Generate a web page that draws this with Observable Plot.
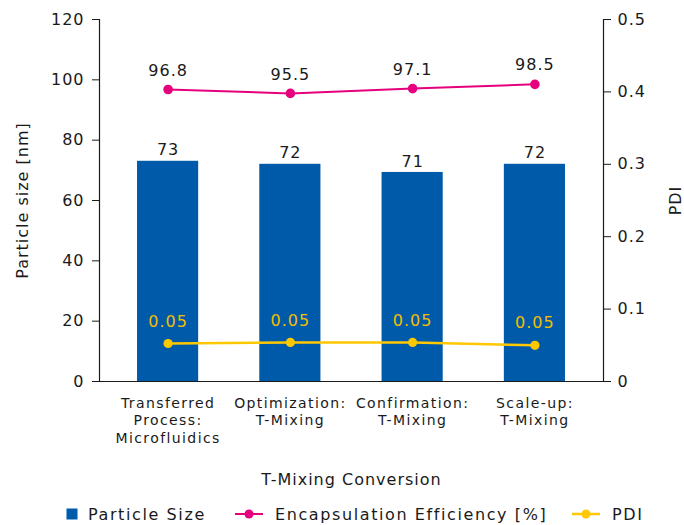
<!DOCTYPE html>
<html><head><meta charset="utf-8">
<script src="https://cdn.jsdelivr.net/npm/d3@7"></script>
<script src="https://cdn.jsdelivr.net/npm/@observablehq/plot@0.6"></script>
<style>
body{margin:0;background:#fff;font-family:"DejaVu Sans",Verdana,sans-serif;}
#chart svg text{letter-spacing:1px;}
#chart svg g[aria-label="x-axis tick label"] text{letter-spacing:1.4px;}
#chart svg g[aria-label="title"] text{letter-spacing:1.6px;}
#legend{position:relative;width:684px;height:25px;font-size:16px;color:#1a1a1a;letter-spacing:1.6px;}
#legend .it{position:absolute;top:3px;height:22px;display:flex;align-items:center;white-space:nowrap;}
</style></head><body>
<div id="chart"></div>
<div id="legend"></div>
<script>
const categories = ["Transferred\nProcess:\nMicrofluidics", "Optimization:\nT-Mixing", "Confirmation:\nT-Mixing", "Scale-up:\nT-Mixing"];
const particleSize = [73, 72, 69.3, 72];
const particleSizeLabels = ["73", "72", "71", "72"];
const encapsulation = [96.8, 95.5, 97.1, 98.5];
const encapsulationLabels = ["96.8", "95.5", "97.1", "98.5"];
const pdi = [0.0525, 0.054, 0.054, 0.050];
const pdiLabels = ["0.05", "0.05", "0.05", "0.05"];
const leftTicks = [0, 20, 40, 60, 80, 100, 120];
const rightTicks = [0, 0.1, 0.2, 0.3, 0.4, 0.5];
const seriesNames = ["Particle Size", "Encapsulation Efficiency [%]", "PDI"];

const BLUE = "#005AAA", PINK = "#E6007E", YELLOW = "#FFC800", INK = "#1a1a1a";
const pdiFactor = 120 / 0.5; // right axis 0–0.5 mapped onto left 0–120

const rows = categories.map((c, i) => ({
  cat: c, size: particleSize[i], sizeLabel: particleSizeLabels[i],
  ee: encapsulation[i], eeLabel: encapsulationLabels[i],
  pdi: pdi[i] * pdiFactor, pdiLabel: pdiLabels[i]
}));

const chart = Plot.plot({
  width: 684, height: 500,
  marginLeft: 99, marginRight: 81, marginTop: 19, marginBottom: 119,
  style: {fontFamily: "DejaVu Sans, Verdana, sans-serif", fontSize: "16px", color: INK, background: "#fff"},
  x: {domain: categories, paddingInner: 0.5, paddingOuter: 0.311, round: false, axis: null},
  y: {domain: [0, 120], axis: null},
  marks: [
    Plot.barY(rows, {x: "cat", y: "size", fill: BLUE}),
    Plot.frame({anchor: "left", stroke: INK, strokeWidth: 1.2}),
    Plot.frame({anchor: "right", stroke: INK, strokeWidth: 1.2}),
    Plot.ruleY([0], {stroke: INK, strokeWidth: 1.2}),
    Plot.axisY({anchor: "left", ticks: leftTicks, tickSize: 7, tickPadding: 8, fontSize: 16, label: null, stroke: INK}),
    Plot.axisY({anchor: "right", ticks: rightTicks.map(t => t * pdiFactor), tickFormat: d => String(+(d / pdiFactor).toFixed(1)), tickSize: 7, tickPadding: 7, fontSize: 16, label: null, stroke: INK}),
    Plot.axisX({anchor: "bottom", tickSize: 0, tickPadding: 14, fontSize: 14, lineHeight: 1.25, label: null}),
    Plot.text(rows, {x: "cat", y: "size", text: "sizeLabel", dy: -11, lineAnchor: "middle", fontSize: 16, fill: INK}),
    Plot.line(rows, {x: "cat", y: "ee", stroke: PINK, strokeWidth: 2}),
    Plot.dot(rows, {x: "cat", y: "ee", r: 4.8, fill: PINK}),
    Plot.text(rows, {x: "cat", y: "ee", text: "eeLabel", dy: -19, lineAnchor: "middle", fontSize: 16, fill: INK}),
    Plot.line(rows, {x: "cat", y: "pdi", stroke: YELLOW, strokeWidth: 2.5}),
    Plot.dot(rows, {x: "cat", y: "pdi", r: 4.6, fill: YELLOW}),
    Plot.text(rows, {x: "cat", y: "pdi", text: "pdiLabel", dy: -22, lineAnchor: "middle", fontSize: 16, fill: "#F2BE00"}),
    Plot.text(["T-Mixing Conversion"], {text: d => d, frameAnchor: "bottom", dy: 98, lineAnchor: "middle", textAnchor: "middle", fontSize: 16, fill: INK, ariaLabel: "title"}),
    Plot.text(["Particle size [nm]"], {text: d => d, frameAnchor: "left", dx: -77, rotate: -90, lineAnchor: "middle", textAnchor: "middle", fontSize: 16, fill: INK, ariaLabel: "title"}),
    Plot.text(["PDI"], {text: d => d, frameAnchor: "right", dx: 72, rotate: -90, lineAnchor: "middle", textAnchor: "middle", fontSize: 16, fill: INK, ariaLabel: "title"})
  ]
});
document.getElementById("chart").appendChild(chart);

// legend
const lg = document.getElementById("legend");
const items = [
  {left: 66, marker: `<svg width="12" height="12"><rect x="0.5" y="0.5" width="11" height="11" fill="${BLUE}"/></svg>`, gap: 10, name: seriesNames[0]},
  {left: 235, marker: `<svg width="28" height="12"><line x1="0" x2="28" y1="6" y2="6" stroke="${PINK}" stroke-width="2"/><circle cx="14" cy="6" r="4.5" fill="${PINK}"/></svg>`, gap: 12, name: seriesNames[1]},
  {left: 572, marker: `<svg width="28" height="12"><line x1="0" x2="28" y1="6" y2="6" stroke="${YELLOW}" stroke-width="2.5"/><circle cx="14" cy="6" r="4.5" fill="${YELLOW}"/></svg>`, gap: 12, name: seriesNames[2]}
];
for (const it of items) {
  const d = document.createElement("div");
  d.className = "it";
  d.style.left = it.left + "px";
  d.innerHTML = it.marker + `<span style="margin-left:${it.gap}px">${it.name}</span>`;
  lg.appendChild(d);
}
</script>
</body></html>
